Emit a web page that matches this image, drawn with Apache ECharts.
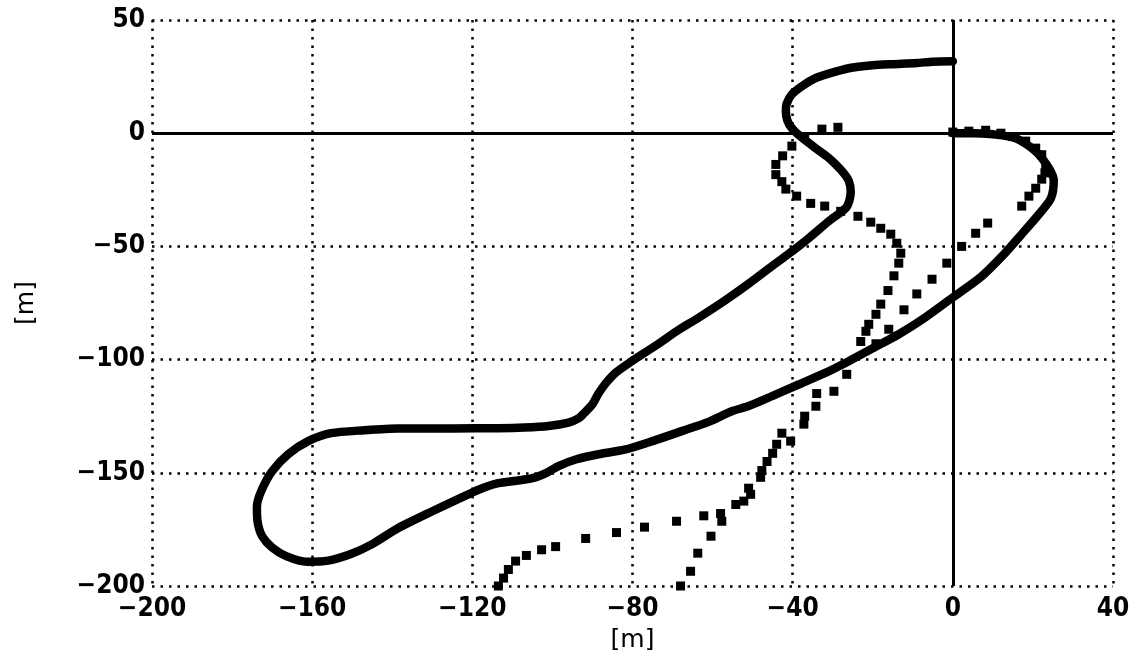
<!DOCTYPE html>
<html>
<head>
<meta charset="utf-8">
<title>Trajectory</title>
<script src="https://cdn.jsdelivr.net/npm/echarts@6/dist/echarts.min.js"></script>
<style>
  html, body { margin: 0; padding: 0; background: #fff; }
  #chart { width: 1136px; height: 660px; }
</style>
</head>
<body>
<div id="chart"></div>
<script>
// Axis ticks and their printed labels
const xTicks = [-200, -160, -120, -80, -40, 0, 40];
const xTickLabels = ['−200', '−160', '−120', '−80', '−40', '0', '40'];
const yTicks = [-200, -150, -100, -50, 0, 50];
const yTickLabels = ['−200', '−150', '−100', '−50', '0', '50'];

// Continuous track [x, y] in metres
const solidTrack = [
  [0,31.8],[-5,31.6],[-9,31],[-15,30.5],[-20,30],[-26,28.7],[-31,26.3],[-34.3,24.3],
  [-37.5,21],[-40.2,17.2],[-41.5,13],[-41.7,9.7],[-41.3,5.5],[-40.2,2.2],[-38,-1.5],
  [-34.3,-6.6],[-31.5,-10.2],[-29.3,-13.7],[-27.3,-17.5],[-26,-21],[-25.5,-25.6],
  [-25.8,-29.5],[-26.7,-33],[-31,-38.9],[-36,-46.4],[-40,-52],[-45,-58.5],[-51,-66.5],
  [-57,-74],[-63.5,-81.5],[-69,-87.5],[-73.5,-93],[-77,-97],[-80.2,-100.7],[-84,-105.5],
  [-86.7,-110.5],[-88.5,-115],[-90,-119.7],[-92,-123.5],[-93.5,-126],[-96,-127.8],
  [-101,-129.3],[-107,-130],[-113.5,-130.3],[-125,-130.4],[-138.6,-130.4],[-147,-131.2],
  [-155.3,-132.5],[-161,-136],[-166,-141.8],[-170,-149.3],[-172.7,-158],[-173.8,-165],
  [-173.6,-172],[-172.5,-178],[-170,-183],[-166.5,-186.8],[-161.3,-189.3],[-156,-188.8],
  [-150.5,-186],[-145,-181.5],[-138.6,-174.5],[-130,-167],[-121,-159.5],[-117,-156.5],
  [-113.5,-154.6],[-109,-153.5],[-105,-152.4],[-101.5,-150],[-98.5,-147],[-94,-144],
  [-88.5,-141.8],[-82,-139.8],[-75,-136],[-67.7,-131.6],[-61,-127.5],[-55.2,-122.8],
  [-51,-120.5],[-45,-116],[-38.5,-111],[-32,-106],[-26,-100.7],[-20,-95],[-13.5,-88.8],
  [-7,-81.5],[0,-72.5],[7,-63.5],[13,-53],[17.2,-44.6],[21.5,-35.8],[24.5,-28.7],
  [25.2,-21],[24,-15.5],[20.7,-8],[15.7,-2.2],[10,-0.5],[5,0],[0,0]
];

// Sampled positions, first run
const markerRunA = [
  [0,0.5],[4,0.9],[8.2,1.3],[12,0],[15,-1.5],[18.2,-3.5],[20.7,-6.6],[22.2,-9.5],
  [23.2,-14.6],[23,-17.5],[22.2,-20.3],[20.7,-24.3],[19,-27.8],[17.2,-32.2],
  [8.7,-39.7],[5.7,-44.2],[2.2,-50],[-1.5,-57.4],[-5.2,-64.5],[-9,-71],[-12.2,-78],
  [-16,-86.6],[-19.2,-93],[-26.5,-106.5],[-29.7,-114],[-37,-125],[-40.5,-136],
  [-45,-141.4],[-47.7,-149],[-50.5,-159.5],[-52.2,-162.5],[-57.7,-171.4],[-60.4,-178],
  [-63.7,-185.5],[-65.5,-193.5],[-68,-200]
];

// Sampled positions, second run
const markerRunB = [
  [-28.7,2.6],[-32.7,1.8],[-37,-1.5],[-40.2,-5.7],[-42.5,-10],[-44.2,-13.8],[-44.2,-18.3],
  [-42.7,-21.4],[-41.7,-24.7],[-39,-27.8],[-35.5,-31],[-32,-32.2],[-28,-34.5],
  [-23.7,-36.7],[-20.5,-39.3],[-18,-42],[-15.5,-44.6],[-14,-48.6],[-13,-53],[-13.5,-57.4],
  [-14.7,-63],[-16.2,-69.5],[-18,-75.5],[-19.2,-80],[-21,-84.4],[-21.7,-87.5],[-23,-92],
  [-34,-115],[-34.2,-120.6],[-37.2,-128.5],[-42.7,-132.5],[-44,-137.4],[-46.4,-145],
  [-48,-152],[-51,-156.8],[-54.2,-164],[-58,-168],[-62.2,-169],[-69,-171.4],[-77,-174],
  [-84,-176.4],[-91.7,-179],[-99.2,-182.6],[-102.7,-184],[-106.5,-186.5],[-109.2,-189],
  [-111,-192.7],[-112.2,-196.5],[-113.5,-200]
];

const chart = echarts.init(document.getElementById('chart'), null, { renderer: 'canvas' });

const dotted = { color: '#000', width: 2.5, type: [2.5, 6], cap: 'butt' };
const tickFont = { color: '#000', fontFamily: '"DejaVu Sans Condensed", "DejaVu Sans", sans-serif', fontWeight: 'bold', fontSize: 26 };
const nameFont = { color: '#000', fontFamily: '"DejaVu Sans", sans-serif', fontSize: 25 };

const markerStyle = { color: '#000', opacity: 1 };

chart.setOption({
  backgroundColor: '#fff',
  animation: false,
  grid: { left: 152, right: 23, top: 20, bottom: 74 },
  xAxis: {
    type: 'value',
    min: xTicks[0], max: xTicks[xTicks.length - 1], interval: 40,
    name: '[m]', nameLocation: 'middle', nameGap: 42, nameTextStyle: nameFont,
    axisLine: { show: false }, axisTick: { show: false },
    axisLabel: Object.assign({ margin: 10, formatter: v => xTickLabels[xTicks.indexOf(v)] }, tickFont),
    splitLine: { show: true, lineStyle: dotted }
  },
  yAxis: {
    type: 'value',
    min: yTicks[0], max: yTicks[yTicks.length - 1], interval: 50,
    name: '[m]', nameLocation: 'middle', nameGap: 113, nameRotate: 90, nameTextStyle: nameFont,
    axisLine: { show: false }, axisTick: { show: false },
    axisLabel: Object.assign({ margin: 7, formatter: v => yTickLabels[yTicks.indexOf(v)] }, tickFont),
    splitLine: { show: true, lineStyle: dotted }
  },
  series: [
    {
      type: 'line',
      data: solidTrack,
      showSymbol: false,
      smooth: 0.25,
      lineStyle: { color: '#000', width: 8.5, cap: 'round', join: 'round' },
      z: 3,
      markLine: {
        silent: true,
        symbol: 'none',
        label: { show: false },
        lineStyle: { color: '#000', width: 3, type: 'solid' },
        data: [{ xAxis: 0 }, { yAxis: 0 }]
      }
    },
    {
      type: 'scatter',
      data: markerRunA,
      symbol: 'rect',
      symbolSize: 9,
      itemStyle: markerStyle,
      z: 4
    },
    {
      type: 'scatter',
      data: markerRunB,
      symbol: 'rect',
      symbolSize: 9,
      itemStyle: markerStyle,
      z: 4
    }
  ]
});
</script>
</body>
</html>
